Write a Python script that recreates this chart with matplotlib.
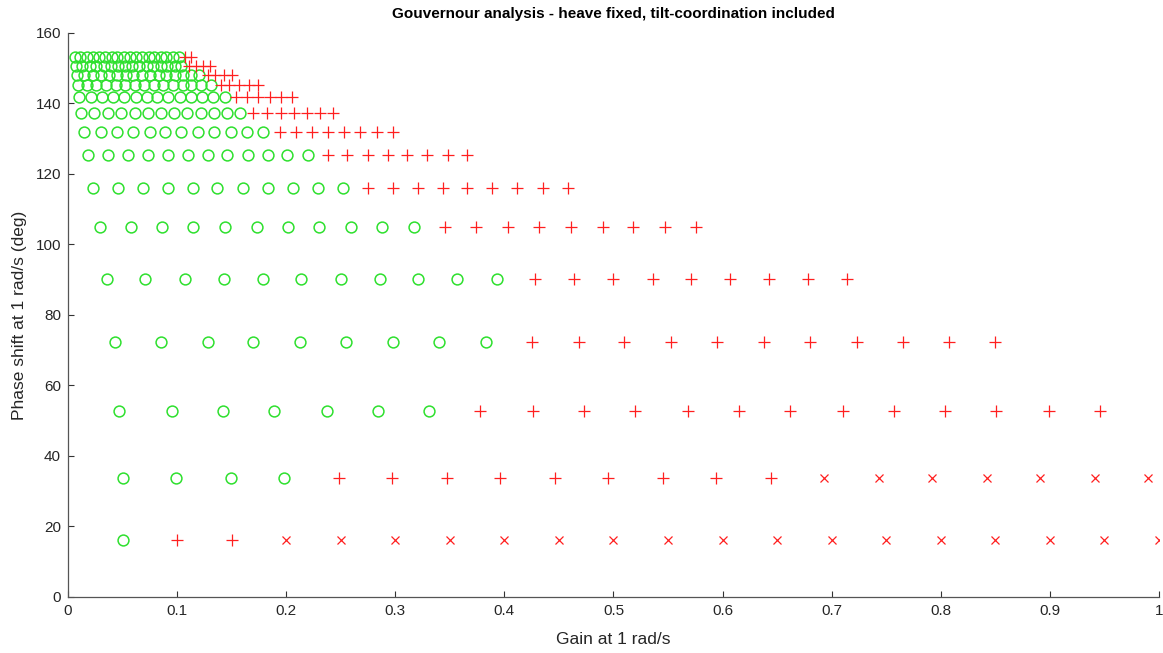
import matplotlib
matplotlib.use("Agg")
from matplotlib import pyplot as plt
from matplotlib.ticker import FormatStrFormatter

# phase shift of each row (deg)
phase = [16.2, 33.8, 52.8, 72.4, 90.1, 104.9, 116.1, 125.3,
         132.0, 137.4, 141.7, 145.1, 148.2, 150.5, 153.1]

# gain values read per row (bottom to top)
gain_16 = [0.05, 0.10, 0.15, 0.20, 0.25, 0.30, 0.35, 0.40, 0.45, 0.50,
           0.55, 0.60, 0.65, 0.70, 0.75, 0.80, 0.85, 0.90, 0.95, 1.00]
gain_34 = [0.050, 0.099, 0.149, 0.198, 0.248, 0.297, 0.347, 0.396, 0.446, 0.495,
           0.545, 0.594, 0.644, 0.693, 0.743, 0.792, 0.842, 0.891, 0.941, 0.990]
gain_53 = [0.047, 0.095, 0.142, 0.189, 0.237, 0.284, 0.331, 0.378, 0.426, 0.473,
           0.520, 0.568, 0.615, 0.662, 0.710, 0.757, 0.804, 0.851, 0.899, 0.946]
gain_72 = [0.043, 0.085, 0.128, 0.170, 0.213, 0.255, 0.298, 0.340, 0.383, 0.425,
           0.468, 0.510, 0.553, 0.595, 0.638, 0.680, 0.723, 0.765, 0.808, 0.850]
gain_90 = [0.036, 0.071, 0.107, 0.143, 0.179, 0.214, 0.250, 0.286, 0.321, 0.357,
           0.393, 0.428, 0.464, 0.500, 0.536, 0.571, 0.607, 0.643, 0.678, 0.714]
gain_105 = [0.029, 0.058, 0.086, 0.115, 0.144, 0.173, 0.202, 0.230, 0.259, 0.288,
            0.317, 0.346, 0.374, 0.403, 0.432, 0.461, 0.490, 0.518, 0.547, 0.576]
gain_116 = [0.023, 0.046, 0.069, 0.092, 0.115, 0.137, 0.160, 0.183, 0.206, 0.229,
            0.252, 0.275, 0.298, 0.321, 0.344, 0.366, 0.389, 0.412, 0.435, 0.458]
gain_125 = [0.018, 0.037, 0.055, 0.073, 0.092, 0.110, 0.128, 0.146, 0.165, 0.183,
            0.201, 0.220, 0.238, 0.256, 0.275, 0.293, 0.311, 0.329, 0.348, 0.366]
gain_132 = [0.015, 0.030, 0.045, 0.060, 0.075, 0.089, 0.104, 0.119, 0.134, 0.149,
            0.164, 0.179, 0.194, 0.209, 0.224, 0.238, 0.253, 0.268, 0.283, 0.298]
gain_137 = [0.012, 0.024, 0.037, 0.049, 0.061, 0.073, 0.085, 0.097, 0.109, 0.122,
            0.134, 0.146, 0.158, 0.170, 0.182, 0.195, 0.207, 0.219, 0.231, 0.243]
gain_142 = [0.010, 0.021, 0.031, 0.041, 0.051, 0.062, 0.072, 0.082, 0.092, 0.103,
            0.113, 0.123, 0.133, 0.144, 0.154, 0.164, 0.174, 0.185, 0.195, 0.205]
gain_145 = [0.009, 0.017, 0.026, 0.035, 0.044, 0.052, 0.061, 0.070, 0.079, 0.087,
            0.096, 0.105, 0.113, 0.122, 0.131, 0.140, 0.148, 0.157, 0.166, 0.174]
gain_148 = [0.008, 0.015, 0.023, 0.030, 0.038, 0.045, 0.053, 0.060, 0.068, 0.075,
            0.083, 0.090, 0.098, 0.105, 0.113, 0.120, 0.128, 0.135, 0.143, 0.150]
gain_150 = [0.007, 0.013, 0.020, 0.026, 0.033, 0.039, 0.046, 0.052, 0.059, 0.065,
            0.072, 0.078, 0.085, 0.091, 0.098, 0.104, 0.111, 0.117, 0.124, 0.130]
gain_153 = [0.006, 0.011, 0.017, 0.023, 0.028, 0.034, 0.040, 0.045, 0.051, 0.057,
            0.062, 0.068, 0.074, 0.079, 0.085, 0.090, 0.096, 0.102, 0.107, 0.113]

# o = stable, + = marginal, x = unstable (one char per point)
result_16 = "o++xxxxxxxxxxxxxxxxx"
result_34 = "oooo+++++++++xxxxxxx"
result_53 = "ooooooo+++++++++++++"
result_72 = "ooooooooo+++++++++++"
result_90 = "ooooooooooo+++++++++"
result_105 = "ooooooooooo+++++++++"
result_116 = "ooooooooooo+++++++++"
result_125 = "oooooooooooo++++++++"
result_132 = "oooooooooooo++++++++"
result_137 = "ooooooooooooo+++++++"
result_142 = "oooooooooooooo++++++"
result_145 = "ooooooooooooooo+++++"
result_148 = "oooooooooooooooo++++"
result_150 = "oooooooooooooooo++++"
result_153 = "oooooooooooooooooo++"

gains = [gain_16, gain_34, gain_53, gain_72, gain_90, gain_105, gain_116, gain_125,
         gain_132, gain_137, gain_142, gain_145, gain_148, gain_150, gain_153]
results = [result_16, result_34, result_53, result_72, result_90, result_105, result_116,
           result_125, result_132, result_137, result_142, result_145, result_148,
           result_150, result_153]

plt.rcParams["font.family"] = ["Liberation Sans", "DejaVu Sans"]

fig = plt.figure(figsize=(11.63, 6.53), dpi=100)
ax = fig.add_axes([0.0585, 0.0858, 0.938, 0.8637])

styles = {
    "o": dict(marker="o", color="#2ee02e", ms=7.8, mfc="none", mew=1.1),
    "+": dict(marker="+", color="#ff1f1f", ms=8.5, mew=0.9),
    "x": dict(marker="x", color="#ff1f1f", ms=5.5, mew=0.9),
}

for code, st in styles.items():
    xs, ys = [], []
    for ph, g, res in zip(phase, gains, results):
        for gv, r in zip(g, res):
            if r == code:
                xs.append(gv)
                ys.append(ph)
    ax.plot(xs, ys, linestyle="none", **st)

ax.set_xlim(0, 1)
ax.set_ylim(0, 160)
ax.set_xticks([i / 10 for i in range(11)])
ax.set_yticks(range(0, 161, 20))
ax.xaxis.set_major_formatter(FormatStrFormatter("%g"))

for side in ["top", "right"]:
    ax.spines[side].set_visible(False)
for side in ["left", "bottom"]:
    ax.spines[side].set_color("#555555")
    ax.spines[side].set_linewidth(0.9)
ax.tick_params(direction="in", length=4, width=0.8, color="#333333",
               labelsize=11, labelcolor="#262626", pad=5)

ax.set_title("Gouvernour analysis - heave fixed, tilt-coordination included",
             fontsize=11, fontweight="bold", pad=11)
ax.set_xlabel("Gain at 1 rad/s", fontsize=12.5, color="#262626", labelpad=10)
ax.set_ylabel("Phase shift at 1 rad/s (deg)", fontsize=12.5, color="#262626", labelpad=6)

plt.savefig("out.png", dpi=100)
plt.close()
